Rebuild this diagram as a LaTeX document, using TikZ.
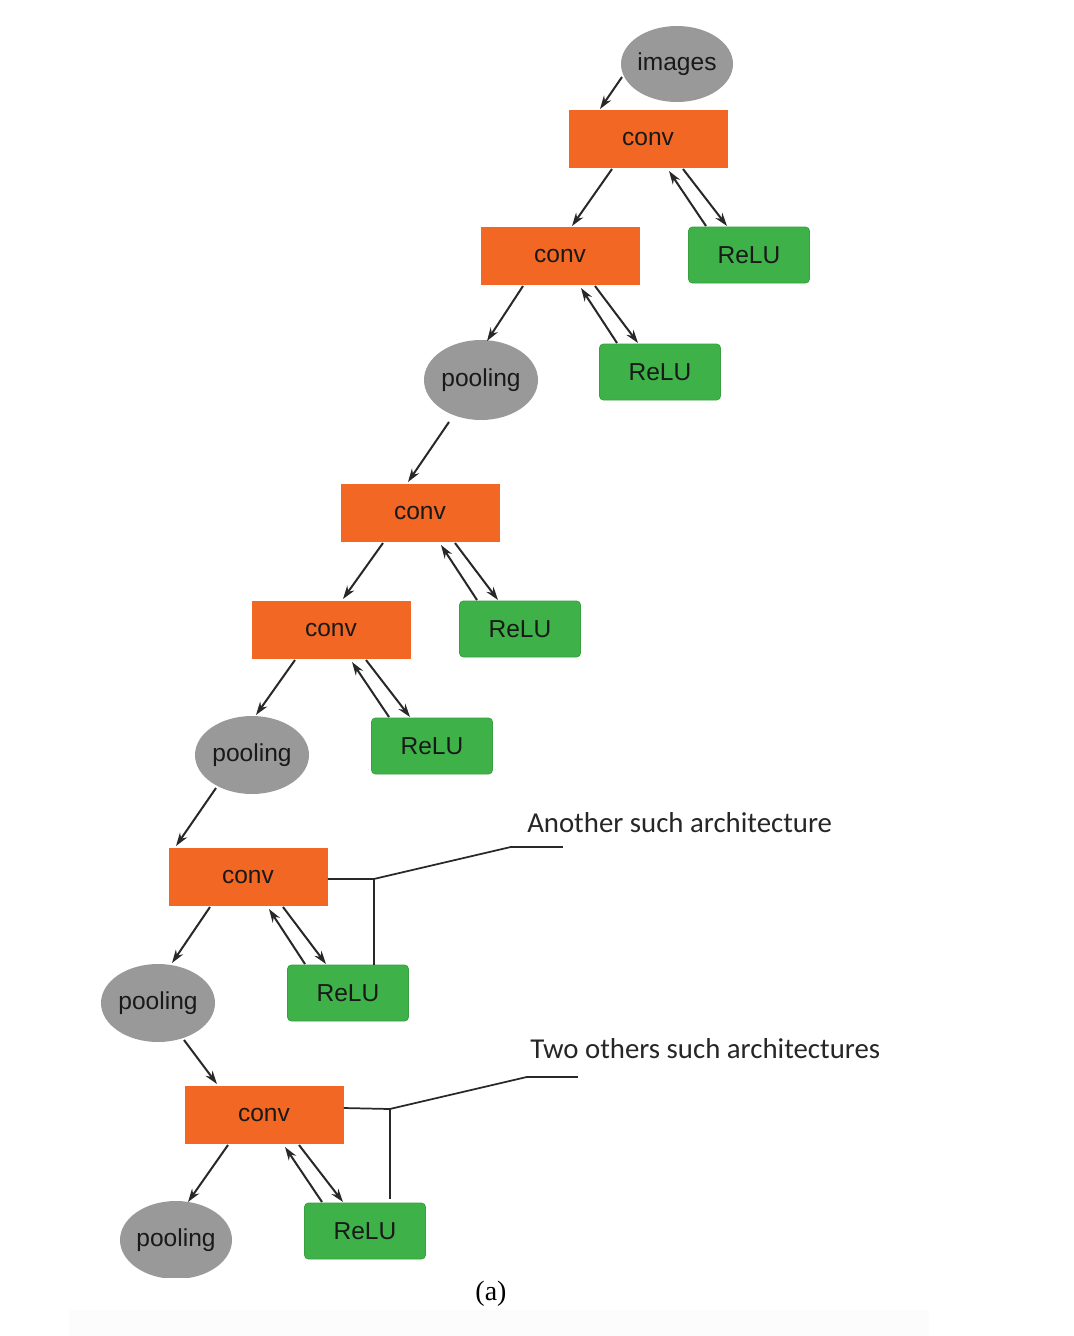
\documentclass[tikz,border=0pt]{standalone}
\usepackage{fontspec}
\setmainfont{Liberation Sans}
\newfontfamily\annfont{Carlito}
\newfontfamily\capfont{Liberation Serif}
\usetikzlibrary{calc,arrows.meta,shapes.geometric}
\definecolor{convc}{RGB}{242,103,35}
\definecolor{reluc}{RGB}{62,178,72}
\definecolor{poolc}{RGB}{153,153,153}
\definecolor{linec}{RGB}{40,40,40}
\begin{document}
\begin{tikzpicture}[x=0.75pt,y=-0.75pt,
  convbox/.style={rectangle,fill=convc,minimum width=119.25pt,minimum height=43pt,inner sep=0pt,font=\fontsize{18.4}{20}\selectfont,text=black!90},
  relubox/.style={rectangle,rounded corners=3pt,fill=reluc,draw=reluc!90!black,line width=0.6pt,minimum width=90.75pt,minimum height=42pt,inner sep=0pt,font=\fontsize{18.4}{20}\selectfont,text=black!90},
  poolell/.style={ellipse,fill=poolc,minimum width=85.5pt,minimum height=58.5pt,inner sep=0pt,font=\fontsize{18.4}{20}\selectfont,text=black!90},
  arr/.style={draw=linec,line width=1.5pt,-{Stealth[length=10pt,width=6.5pt]}},
  ann/.style={draw=linec,line width=1.3pt},
  anntext/.style={font=\annfont\fontsize{21.6}{24}\selectfont,text=black!85,anchor=west,inner sep=0pt}
]
\useasboundingbox (0,0) rectangle (1074,1336);
\fill[white] (0,0) rectangle (1074,1336);
\fill[black!1] (69,1310) rectangle (929,1336);

% nodes
\node[poolell,minimum width=84pt,minimum height=57pt] (images) at (677,64) {images};
\node[convbox] (c1) at (648,139) {conv};
\node[relubox] (r1) at (749,255) {ReLU};
\node[convbox] (c2) at (560,256) {conv};
\node[relubox] (r2) at (660,372) {ReLU};
\node[poolell,minimum height=60pt] (p1) at (481,380) {pooling};
\node[convbox] (c3) at (420,513) {conv};
\node[relubox] (r3) at (520,629) {ReLU};
\node[convbox] (c4) at (331,630) {conv};
\node[relubox] (r4) at (432,746) {ReLU};
\node[poolell] (p2) at (252,755) {pooling};
\node[convbox] (c5) at (248,877) {conv};
\node[relubox] (r5) at (348,993) {ReLU};
\node[poolell] (p3) at (158,1003) {pooling};
\node[convbox] (c6) at (264,1115) {conv};
\node[relubox] (r6) at (365,1231) {ReLU};
\begin{scope}
  \clip (0,0) rectangle (1074,1277);
  \node[poolell,minimum width=84pt] (p4) at (176,1240) {pooling};
\end{scope}

% main chain
\draw[arr] ($(images.center)+(-55,13)$) -- ($(c1.center)+(-48,-30)$);
\draw[arr] ($(c1.center)+(-36,30)$) -- ($(c2.center)+(12,-30)$);
\draw[arr] ($(c2.center)+(-37,30)$) -- ($(p1.center)+(6,-39)$);
\draw[arr] ($(p1.center)+(-32,42)$) -- ($(c3.center)+(-12,-31)$);
\draw[arr] ($(c3.center)+(-37,30)$) -- ($(c4.center)+(12,-31)$);
\draw[arr] ($(c4.center)+(-36,30)$) -- ($(p2.center)+(4,-40)$);
\draw[arr] ($(p2.center)+(-36,33)$) -- ($(c5.center)+(-72,-31)$);
\draw[arr] ($(c5.center)+(-38,30)$) -- ($(p3.center)+(14,-40)$);
\draw[arr] ($(p3.center)+(26,37)$) -- ($(c6.center)+(-47,-31)$);
\draw[arr] ($(c6.center)+(-36,30)$) -- ($(p4.center)+(12,-38)$);

% conv <-> ReLU pairs
\foreach \c/\r in {c1/r1,c2/r2,c3/r3,c4/r4,c5/r5,c6/r6}{
  \draw[arr] ($(\r.center)+(-43,-29)$) -- ($(\c.center)+(21,32)$);
  \draw[arr] ($(\c.center)+(35,30)$) -- ($(\r.center)+(-22,-29)$);
}

% annotations
\coordinate (j1) at ($(c5.east)+(46,2)$);
\draw[ann] ($(c5.east)+(0,2)$) -- (j1) -- ($(j1)+(137,-32)$) -- ($(j1)+(189,-32)$);
\draw[ann] (j1) -- (j1 |- r5.north);
\node[anntext] (t1) at (527,823) {Another such architecture};

\coordinate (j2) at ($(c6.east)+(46,-6)$);
\draw[ann] ($(c6.east)+(0,-7)$) -- (j2) -- ($(j2)+(137,-32)$) -- ($(j2)+(188,-32)$);
\draw[ann] (j2) -- ($(j2 |- r6.north)+(0,-4)$);
\node[anntext] (t2) at (530,1049) {Two others such architectures};

\node[font=\capfont\fontsize{21}{24}\selectfont,inner sep=0pt] (cap) at (491,1294) {(a)};
\end{tikzpicture}
\end{document}
